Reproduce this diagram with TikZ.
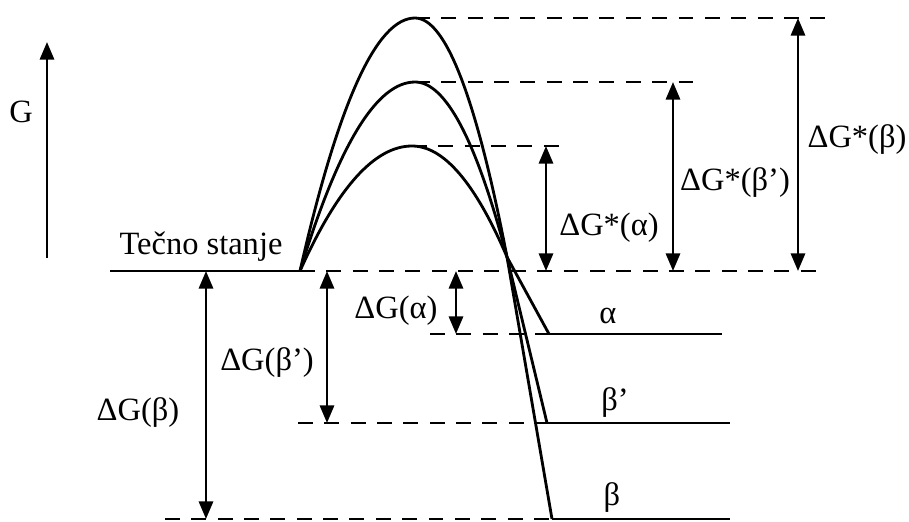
\documentclass[tikz,border=0pt]{standalone}
\usepackage{fontspec}
\setmainfont{Liberation Serif}
\usetikzlibrary{arrows.meta, positioning}
\tikzstyle{level} = [line width=1.6pt]
\tikzstyle{guide} = [line width=1.6pt, dash pattern=on 8.5pt off 6.5pt]
\tikzstyle{curve} = [line width=1.6pt]
\tikzstyle{arrow} = [line width=1.6pt, {Triangle[length=10pt,width=8pt]}-{Triangle[length=10pt,width=8pt]}]
\tikzstyle{lbl} = [font=\fontsize{18.5}{22}\selectfont, inner sep=0pt]

\begin{document}
\begin{tikzpicture}[x=0.02cm, y=-0.02cm]
        \useasboundingbox (0,0) rectangle (909,521);

        % Osa G
        \coordinate (gbot) at (47,258);
        \coordinate (gtop) at (47,42);
        \draw[line width=1.6pt, -{Triangle[length=10pt,width=8pt]}] (gbot) -- (gtop);
        \node[lbl] (glbl) at (21,112) {G};

        % Tecno stanje
        \coordinate (liqL) at (110,271);
        \coordinate (start) at (300,271);
        \coordinate (liqR) at (820,271);
        \draw[level] (liqL) -- (start);
        \draw[guide] (start) -- (liqR);
        \node[lbl] (liq) at (201,247) {Tečno stanje};

        % Vrhovi i presek
        \coordinate (pkA) at (412,146);
        \coordinate (pkP) at (415,82);
        \coordinate (pkB) at (415,18);
        \coordinate (cross) at (507,257);
        \draw[guide] (pkA) -- (563,146) coordinate (pkAe);
        \draw[guide] (pkP) -- (700,82) coordinate (pkPe);
        \draw[guide] (pkB) -- (830,18) coordinate (pkBe);

        % Nivoi faza
        \coordinate (aL) at (430,334);
        \coordinate (aM) at (549,334);
        \coordinate (aR) at (722,334);
        \coordinate (pL) at (298,423);
        \coordinate (pM) at (547,423);
        \coordinate (pR) at (730,423);
        \coordinate (bL) at (165,519);
        \coordinate (bM) at (552,519);
        \coordinate (bR) at (730,519);
        \draw[guide] (aL) -- (aM);
        \draw[level] (aM) -- (aR);
        \draw[guide] (pL) -- (pM);
        \draw[level] (pM) -- (pR);
        \draw[guide] (bL) -- (bM);
        \draw[level] (bM) -- (bR);
        \node[lbl] (alfa) at (608,316) {α};
        \node[lbl] (betap) at (615,403) {β’};
        \node[lbl] (beta) at (612,498) {β};

        % Krive
        \draw[curve] (start) .. controls (337.3,187.7) and (374.7,146) .. (pkA)
            .. controls (443.7,146) and (475.3,183) .. (cross) -- (aM);
        \draw[curve] (start) .. controls (338.3,145) and (376.7,82) .. (pkP)
            .. controls (445.7,82) and (476.3,140.3) .. (cross) -- (pM);
        \draw[curve] (start) .. controls (338.3,102.3) and (376.7,18) .. (pkB)
            .. controls (445.7,18) and (476.3,97.7) .. (cross) -- (bM);

        % Strelice
        \coordinate (xsA) at (546,0);
        \coordinate (xsP) at (673,0);
        \coordinate (xsB) at (798,0);
        \coordinate (xgA) at (456,0);
        \coordinate (xgP) at (327,0);
        \coordinate (xgB) at (206,0);
        \draw[arrow] (xsA |- pkA) -- (xsA |- start);
        \draw[arrow] (xsP |- pkP) -- (xsP |- start);
        \draw[arrow] (xsB |- pkB) -- (xsB |- start);
        \draw[arrow] (xgA |- start) -- (xgA |- aL);
        \draw[arrow] (xgP |- start) -- (xgP |- pL);
        \draw[arrow] (xgB |- start) -- (xgB |- bL);

        \node[lbl] (dsA) at (609,228) {ΔG*(α)};
        \node[lbl] (dsP) at (735,183) {ΔG*(β’)};
        \node[lbl] (dsB) at (857,140) {ΔG*(β)};
        \node[lbl] (dgA) at (396,311) {ΔG(α)};
        \node[lbl] (dgP) at (267,363) {ΔG(β’)};
        \node[lbl] (dgB) at (138,413) {ΔG(β)};

    \end{tikzpicture}
\end{document}
